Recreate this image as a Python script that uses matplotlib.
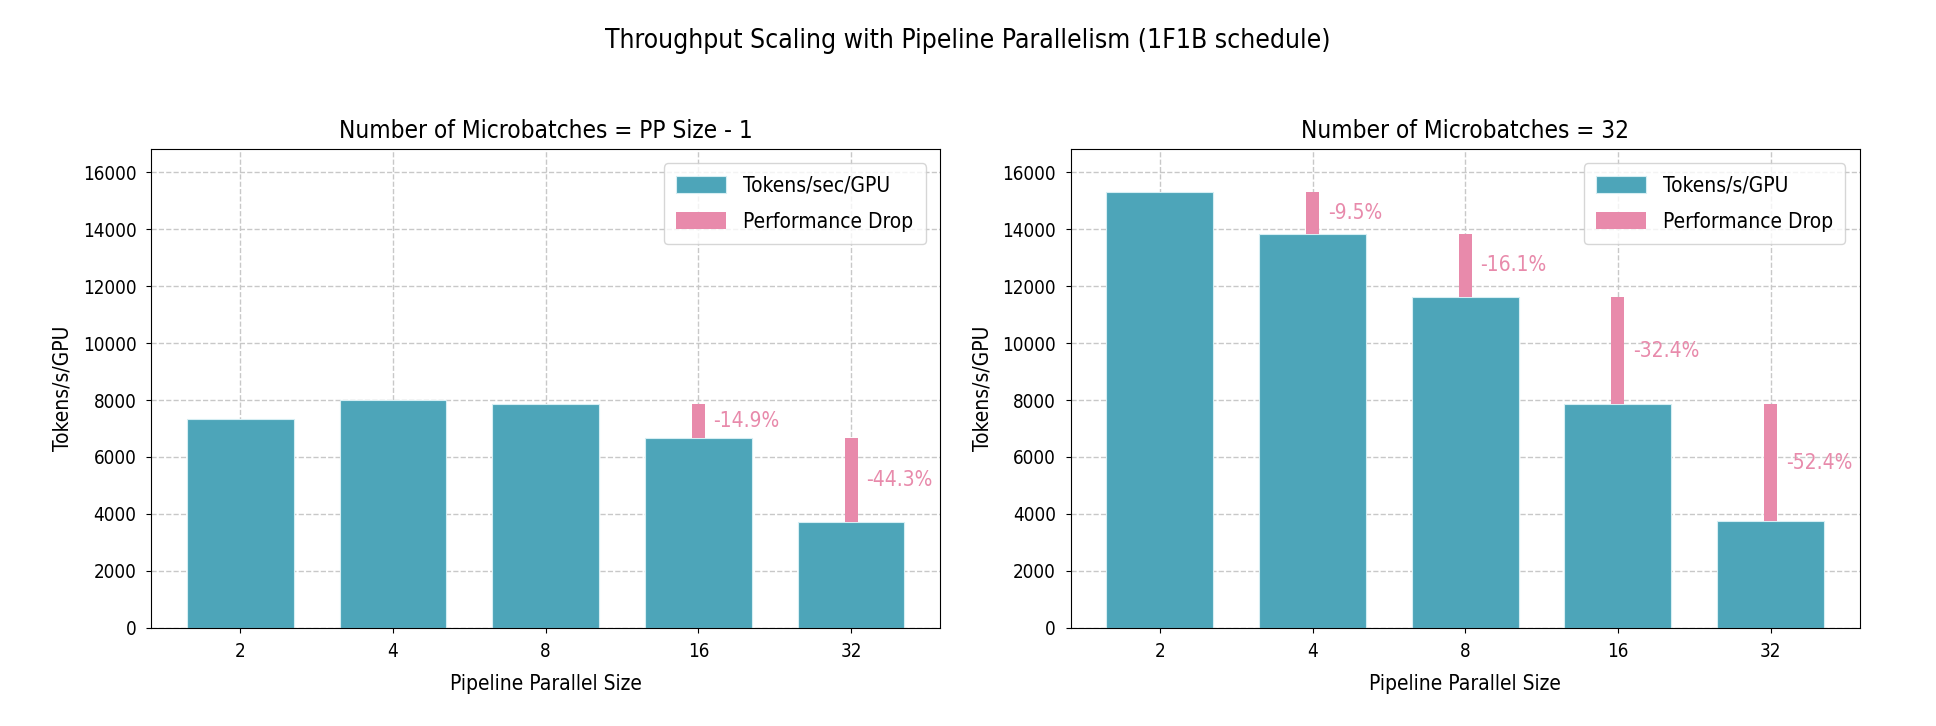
import numpy as np
import matplotlib
matplotlib.use("Agg")
import matplotlib.pyplot as plt

plt.rcParams['font.family'] = ['Liberation Sans Narrow', 'DejaVu Sans']
plt.rcParams['font.stretch'] = 'condensed'

pp_sizes = ['2', '4', '8', '16', '32']
tput_pp_minus_1 = [7350, 8020, 7850, 6680, 3720]
tput_mb_32 = [15300, 13850, 11620, 7850, 3740]
drops_pp_minus_1 = {3: -14.9, 4: -44.3}
drops_mb_32 = {1: -9.5, 2: -16.1, 3: -32.4, 4: -52.4}

teal = '#4da5b9'
pink = '#e88aab'

fig, axes = plt.subplots(1, 2, figsize=(19.36, 7.26), dpi=100)
fig.subplots_adjust(left=0.078, right=0.9607, bottom=0.1354, top=0.795, wspace=0.165)

panels = [
    (axes[0], tput_pp_minus_1, drops_pp_minus_1, 'Number of Microbatches = PP Size - 1', 'Tokens/sec/GPU'),
    (axes[1], tput_mb_32, drops_mb_32, 'Number of Microbatches = 32', 'Tokens/s/GPU'),
]

x = np.arange(len(pp_sizes))
for ax, vals, drops, title, lab in panels:
    ax.bar(x, vals, width=0.7, color=teal, edgecolor='#d6eef3', linewidth=0.8, label=lab, zorder=2)
    first = True
    for i, pct in drops.items():
        prev = vals[i - 1]
        cur = vals[i]
        ax.bar(x[i], prev - cur, bottom=cur, width=0.085, color=pink,
               label='Performance Drop' if first else None, zorder=3)
        first = False
        ax.text(x[i] + 0.1, (prev + cur) / 2, f'{pct:.1f}%', color=pink,
                fontsize=15, va='center', ha='left', zorder=4)
    ax.set_xticks(x)
    ax.set_xticklabels(pp_sizes)
    ax.set_ylim(0, max(tput_mb_32) * 1.1)
    ax.set_title(title, fontsize=17.5, pad=8)
    ax.set_xlabel('Pipeline Parallel Size', fontsize=15, labelpad=9)
    ax.set_ylabel('Tokens/s/GPU', fontsize=15, labelpad=7)
    ax.tick_params(axis='x', labelsize=13.5, pad=7)
    ax.tick_params(axis='y', labelsize=13.5, pad=7)
    ax.grid(True, linestyle='--', color='#c8c8c8', linewidth=1.0, zorder=0)
    ax.set_axisbelow(True)
    ax.legend(loc='upper right', fontsize=15, borderpad=0.6, handlelength=2.4,
              handleheight=0.85, labelspacing=0.75, handletextpad=0.8, borderaxespad=0.7)

fig.suptitle('Throughput Scaling with Pipeline Parallelism (1F1B schedule)', fontsize=19,
             y=0.944, va='center')

plt.savefig('out.png', dpi=100)
